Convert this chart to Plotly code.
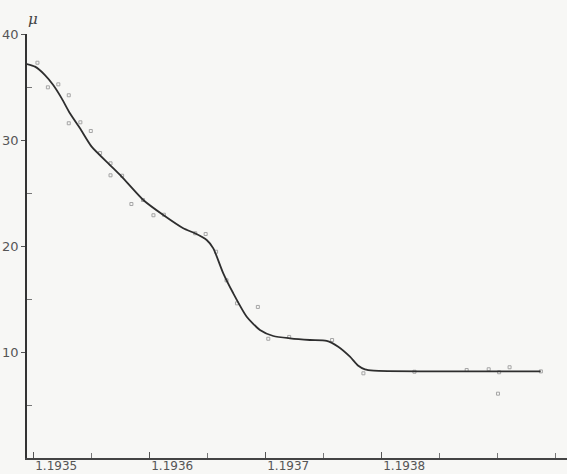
import plotly.graph_objects as go

# Observed points (x = wavelength-like quantity, y = mu)
pt_x = [1.193503, 1.193512, 1.193521, 1.193530, 1.193530, 1.193540, 1.193549,
        1.193557, 1.193566, 1.193566, 1.193576, 1.193584, 1.193594, 1.193603,
        1.193612, 1.193639, 1.193648, 1.193657, 1.193666, 1.193675, 1.193693,
        1.193702, 1.193720, 1.193757, 1.193784, 1.193828, 1.193873, 1.193892,
        1.193901, 1.193910, 1.193937, 1.193900]
pt_y = [37.29, 34.97, 35.25, 34.22, 31.58, 31.67, 30.85,
        28.77, 27.80, 26.67, 26.63, 23.96, 24.34, 22.90,
        22.95, 21.20, 21.13, 19.46, 16.76, 14.59, 14.25,
        11.25, 11.42, 11.13, 7.99, 8.14, 8.30, 8.37,
        8.09, 8.56, 8.17, 6.07]

# Fitted smooth curve
cv_x = [1.1934937, 1.1935009, 1.1935095, 1.1935166, 1.1935239, 1.1935310,
        1.1935397, 1.1935497, 1.1935655, 1.1935756, 1.1935942, 1.1936115,
        1.1936287, 1.1936388, 1.1936489, 1.1936546, 1.1936632, 1.1936718,
        1.1936834, 1.1936948, 1.1937063, 1.1937207, 1.1937379, 1.1937523,
        1.1937623, 1.1937724, 1.1937796, 1.1937853, 1.1937930, 1.1938050,
        1.1938586, 1.1939368]
cv_y = [37.17, 36.92, 36.13, 35.19, 33.93, 32.52,
        31.10, 29.37, 27.64, 26.54, 24.34, 22.92,
        21.67, 21.20, 20.57, 19.78, 17.42, 15.54,
        13.33, 12.08, 11.51, 11.29, 11.13, 11.05,
        10.50, 9.56, 8.70, 8.36, 8.24, 8.20,
        8.17, 8.17]

x_tickvals = [1.1935, 1.1936, 1.1937, 1.1938]
x_ticktext = ["1.1935", "1.1936", "1.1937", "1.1938"]
y_tickvals = [10, 20, 30, 40]
y_ticktext = ["10", "20", "30", "40"]

fig = go.Figure()
fig.add_trace(go.Scatter(
    x=pt_x, y=pt_y, mode="markers",
    marker=dict(symbol="square-open", size=3, color="#a5a5a5", line=dict(width=1, color="#a5a5a5")),
    hoverinfo="skip", showlegend=False))
fig.add_trace(go.Scatter(
    x=cv_x, y=cv_y, mode="lines",
    line=dict(color="#2e2e2e", width=1.8, shape="spline", smoothing=0.6),
    hoverinfo="skip", showlegend=False))

fig.update_layout(
    width=567, height=474,
    margin=dict(l=27, r=0, t=34, b=16),
    paper_bgcolor="#f7f7f5", plot_bgcolor="#f7f7f5",
    font=dict(family="DejaVu Sans", size=13, color="#555555"),
    showlegend=False,
    xaxis=dict(
        range=[1.1934940, 1.1939595], showgrid=False, zeroline=False,
        showline=True, linecolor="#444444", linewidth=1.5,
        tickmode="array", tickvals=x_tickvals, ticktext=x_ticktext,
        ticks="inside", ticklen=6, tickcolor="#555555", tickwidth=1,
        ticklabelposition="outside right", ticklabelstandoff=-4,
        tickfont=dict(family="DejaVu Sans", size=12, color="#555555"),
        minor=dict(dtick=0.00005, tick0=1.1935, ticks="inside", ticklen=5,
                   tickcolor="#777777", tickwidth=1, showgrid=False),
        automargin=False,
    ),
    yaxis=dict(
        range=[0, 40], showgrid=False, zeroline=False,
        showline=True, linecolor="#333333", linewidth=1.5,
        tickmode="array", tickvals=y_tickvals, ticktext=y_ticktext,
        ticks="outside", ticklen=4, tickcolor="#555555", tickwidth=1,
        tickfont=dict(family="DejaVu Sans", size=13, color="#555555"),
        minor=dict(tickvals=[5, 15, 25, 35], ticks="inside", ticklen=5,
                   tickcolor="#777777", tickwidth=1, showgrid=False),
        automargin=False,
    ),
    annotations=[dict(
        text="<i>μ</i>", xref="paper", yref="paper", x=0, y=1,
        xanchor="center", yanchor="bottom", xshift=6, yshift=4,
        showarrow=False, font=dict(family="DejaVu Serif", size=15, color="#444444"))],
)

fig.write_html("out.html")
